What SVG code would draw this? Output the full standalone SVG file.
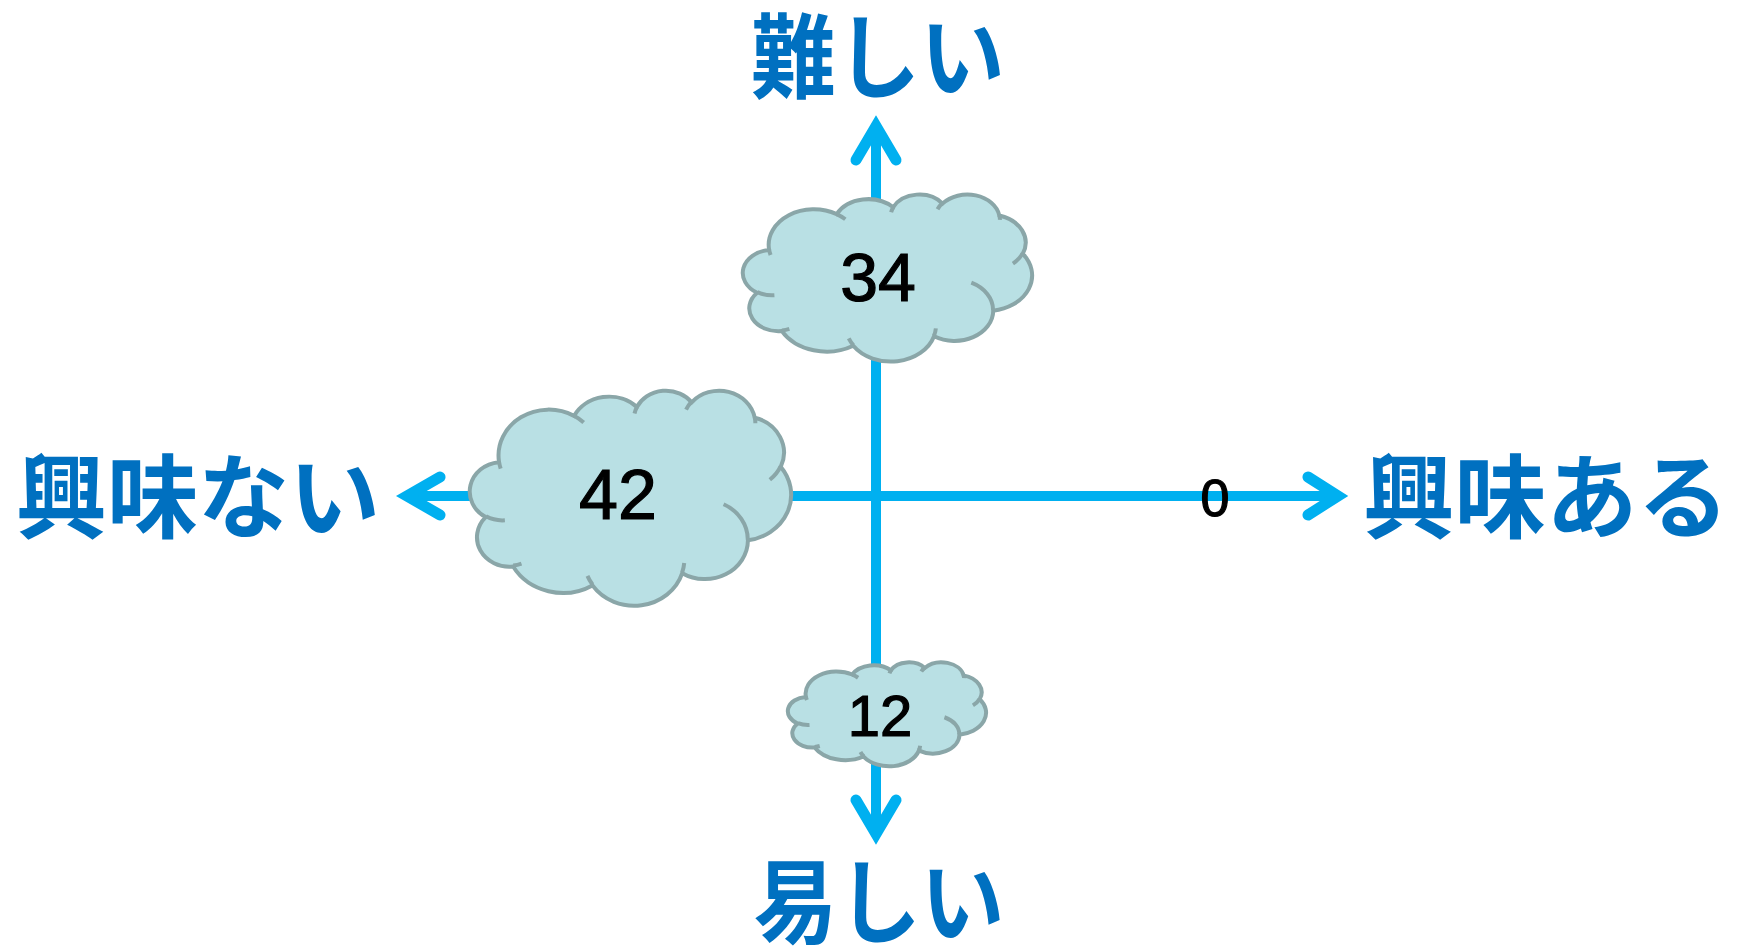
<svg xmlns="http://www.w3.org/2000/svg" width="1738" height="947" viewBox="0 0 1738 947">
  <style>
    .axis { stroke: #00B0F0; stroke-width: 10; fill: none; }
    .head { stroke: #00B0F0; stroke-width: 11; fill: none; stroke-linecap: round; stroke-linejoin: miter; stroke-miterlimit: 10; }
    .cloud { fill: #B9E0E4; stroke: #8AA6A8; stroke-width: 4; }
    .inner { fill: none; stroke: #8AA6A8; stroke-width: 4; stroke-linecap: butt; }
    .lbl { font-family: "Noto Sans CJK JP", "Noto Sans", sans-serif; font-weight: 700; fill: #0070C0; font-size: 92px; text-anchor: middle; }
    .num { font-family: "Liberation Sans", Arial, sans-serif; fill: #000000; stroke: #000000; stroke-width: 1.2; text-anchor: middle; }
  </style>

  <g id="connectors">
    <line class="axis" x1="876" y1="128" x2="876" y2="834"/>
    <line class="axis" x1="406" y1="496" x2="1338" y2="496"/>
    <polyline class="head" points="856,160 876,126 896,160"/>
    <polyline class="head" points="856,800 876,834 896,800"/>
    <polyline class="head" points="440,477 407,496 440,515"/>
    <polyline class="head" points="1308,477 1338,496 1308,515"/>
  </g>

  <g id="cloud-34">
    <g transform="translate(743,194) scale(0.0066898,0.0038657)">
      <path class="cloud" vector-effect="non-scaling-stroke" d="M3900,14370 A6753,9190 0 0 1 14004.5,5201.4 A5333,7267 0 0 1 22456.6,3427.4 A4365,5945 0 0 1 29832.1,2471.8 A4857,6595 0 0 1 38317.5,5566.6 A5333,7273 0 0 1 41817.9,15450.6 A6775,9220 0 0 1 37405.1,30195.5 A5785,7867 0 0 1 28556.7,36805.7 A6752,9215 0 0 1 16482,39259.5 A7720,10543 0 0 1 5804.7,35465.6 A4360,5918 0 0 1 2114,25543.1 A4345,5945 0 0 1 3864,14499.6 Z"/>
      <path class="inner" vector-effect="non-scaling-stroke" d="M4693,26177 A4345,5945 0 0 1 2159.7,25379.9 M6928,34899 A4360,5918 0 0 1 5818.7,35280.9 M16478,39090 A6752,9215 0 0 1 15809.3,37348.1 M28827,34751 A6752,9215 0 0 1 28560.5,36659.4 M34129,22954 A5785,7867 0 0 1 37380.8,30089.9 M41798,15354 A5333,7273 0 0 1 40349.1,18030.9 M38324,5426 A4857,6595 0 0 1 38400.4,6689.6 M29078,3952 A4857,6595 0 0 1 29819.7,2339.9 M22141,4720 A4365,5945 0 0 1 22499.9,3330.8 M14000,5192 A6753,9190 0 0 1 15300,6540.3 M4127,15789 A6753,9190 0 0 1 3900.5,14371.6"/>
    </g>
    <text class="num" x="878" y="301" font-size="68">34</text>
  </g>

  <g id="cloud-42">
    <g transform="translate(470,390) scale(0.0074306,0.0049769)">
      <path class="cloud" vector-effect="non-scaling-stroke" d="M3900,14370 A6753,9190 0 0 1 14004.5,5201.4 A5333,7267 0 0 1 22456.6,3427.4 A4365,5945 0 0 1 29832.1,2471.8 A4857,6595 0 0 1 38317.5,5566.6 A5333,7273 0 0 1 41817.9,15450.6 A6775,9220 0 0 1 37405.1,30195.5 A5785,7867 0 0 1 28556.7,36805.7 A6752,9215 0 0 1 16482,39259.5 A7720,10543 0 0 1 5804.7,35465.6 A4360,5918 0 0 1 2114,25543.1 A4345,5945 0 0 1 3864,14499.6 Z"/>
      <path class="inner" vector-effect="non-scaling-stroke" d="M4693,26177 A4345,5945 0 0 1 2159.7,25379.9 M6928,34899 A4360,5918 0 0 1 5818.7,35280.9 M16478,39090 A6752,9215 0 0 1 15809.3,37348.1 M28827,34751 A6752,9215 0 0 1 28560.5,36659.4 M34129,22954 A5785,7867 0 0 1 37380.8,30089.9 M41798,15354 A5333,7273 0 0 1 40349.1,18030.9 M38324,5426 A4857,6595 0 0 1 38400.4,6689.6 M29078,3952 A4857,6595 0 0 1 29819.7,2339.9 M22141,4720 A4365,5945 0 0 1 22499.9,3330.8 M14000,5192 A6753,9190 0 0 1 15300,6540.3 M4127,15789 A6753,9190 0 0 1 3900.5,14371.6"/>
    </g>
    <text class="num" x="618" y="519" font-size="70">42</text>
  </g>

  <g id="cloud-12">
    <g transform="translate(788,662) scale(0.0045833,0.0024074)">
      <path class="cloud" vector-effect="non-scaling-stroke" d="M3900,14370 A6753,9190 0 0 1 14004.5,5201.4 A5333,7267 0 0 1 22456.6,3427.4 A4365,5945 0 0 1 29832.1,2471.8 A4857,6595 0 0 1 38317.5,5566.6 A5333,7273 0 0 1 41817.9,15450.6 A6775,9220 0 0 1 37405.1,30195.5 A5785,7867 0 0 1 28556.7,36805.7 A6752,9215 0 0 1 16482,39259.5 A7720,10543 0 0 1 5804.7,35465.6 A4360,5918 0 0 1 2114,25543.1 A4345,5945 0 0 1 3864,14499.6 Z"/>
      <path class="inner" vector-effect="non-scaling-stroke" d="M4693,26177 A4345,5945 0 0 1 2159.7,25379.9 M6928,34899 A4360,5918 0 0 1 5818.7,35280.9 M16478,39090 A6752,9215 0 0 1 15809.3,37348.1 M28827,34751 A6752,9215 0 0 1 28560.5,36659.4 M34129,22954 A5785,7867 0 0 1 37380.8,30089.9 M41798,15354 A5333,7273 0 0 1 40349.1,18030.9 M38324,5426 A4857,6595 0 0 1 38400.4,6689.6 M29078,3952 A4857,6595 0 0 1 29819.7,2339.9 M22141,4720 A4365,5945 0 0 1 22499.9,3330.8 M14000,5192 A6753,9190 0 0 1 15300,6540.3 M4127,15789 A6753,9190 0 0 1 3900.5,14371.6"/>
    </g>
    <text class="num" x="880" y="736" font-size="58">12</text>
  </g>

  <g id="zero">
    <text class="num" x="1215" y="516" font-size="52">0</text>
  </g>

  <g id="label-hard"><text class="lbl" transform="translate(878,91) scale(0.92,1)" x="0" y="0">難しい</text></g>
  <g id="label-easy"><text class="lbl" transform="translate(879,936) scale(0.91,1)" x="0" y="0">易しい</text></g>
  <g id="label-nointerest"><text class="lbl" transform="translate(198,531) scale(0.99,1)" x="0" y="0">興味ない</text></g>
  <g id="label-interest"><text class="lbl" transform="translate(1546,531) scale(0.995,1)" x="0" y="0">興味ある</text></g>
</svg>
